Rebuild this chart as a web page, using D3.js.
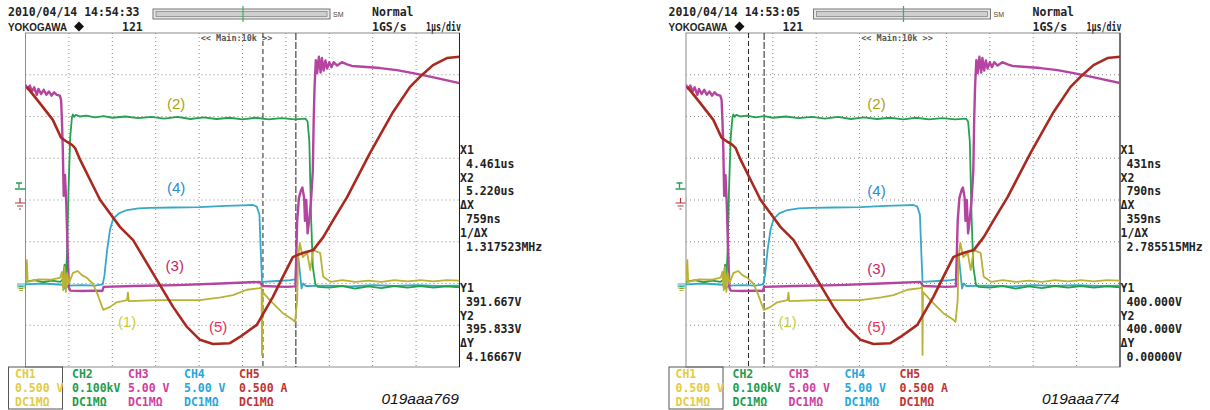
<!DOCTYPE html>
<html>
<head>
<meta charset="utf-8">
<script src="https://cdn.jsdelivr.net/npm/d3@7"></script>
<style>
body { margin: 0; background: #fff; }
svg { display: block; }
.mono { font-family: "DejaVu Sans Mono", "Liberation Mono", monospace; font-weight: bold; }
.sans { font-family: "Liberation Sans", Arial, sans-serif; }
</style>
</head>
<body>
<svg id="chart" width="1210" height="410"></svg>
<script>
// screen time in us from left edge of grid (10 div, 1us/div), value in divisions from centre
var ch1 = [[0,-1.96],[0.03,-1.44],[0.05,-1.96],[0.3,-1.9],[0.6,-1.91],[0.8,-1.86],[0.84,-1.72],[0.87,-2.16],[0.9,-1.6],
  [0.93,-2.2],[0.96,-1.75],[1.0,-2.0],[1.09,-1.75],[1.2,-1.7],[1.3,-1.8],[1.42,-1.87],[1.55,-2.0],[1.65,-2.23],
  [1.79,-2.63],[1.86,-2.6],[1.95,-2.56],[2.1,-2.45],[2.34,-2.4],[2.36,-2.22],[2.38,-2.42],[3.03,-2.4],[4.02,-2.4],
  [4.5,-2.33],[4.78,-2.28],[5.1,-2.15],[5.4,-2.11],[5.44,-2.08],[5.45,-3.71],[5.46,-2.2],[5.63,-2.4],[5.93,-2.71],
  [6.16,-2.87],[6.21,-2.92],[6.26,-2.4],[6.28,-1.37],[6.32,-1.03],[6.39,-1.37],[6.49,-1.27],[6.56,-1.68],[6.63,-1.2],
  [6.79,-1.27],[6.86,-1.84],[7.03,-1.96],[7.3,-1.92],[7.6,-1.96],[7.9,-1.93],[8.2,-1.96],[8.5,-1.92],[8.8,-1.95],
  [9.1,-1.92],[9.4,-1.95],[9.7,-1.92],[10,-1.93]];
var ch2 = [[0,-1.96],[0.2,-1.92],[0.4,-1.97],[0.6,-1.93],[0.8,-1.96],[0.86,-1.9],[0.9,-1.55],[0.92,-2.08],[0.96,-1.2],
  [0.99,0.2],[1.03,1.5],[1.07,1.98],[1.09,2.05],[1.12,1.99],[1.16,2.04],[1.25,2.0],[1.4,2.02],[1.6,1.98],[1.8,2.01],
  [2.0,1.97],[2.3,2.0],[2.6,1.96],[2.9,1.99],[3.2,1.95],[3.5,1.99],[3.8,1.94],[4.1,1.98],[4.4,1.94],[4.7,1.97],
  [5.0,1.93],[5.3,1.97],[5.6,1.93],[5.9,1.96],[6.2,1.93],[6.45,1.95],[6.5,1.88],[6.54,1.4],[6.58,-0.4],[6.62,-1.6],
  [6.68,-2.02],[6.74,-2.08],[7.0,-2.1],[7.3,-2.06],[7.6,-2.12],[7.9,-2.07],[8.2,-2.11],[8.5,-2.06],[8.8,-2.1],
  [9.1,-2.06],[9.4,-2.1],[9.7,-2.07],[10,-2.09]];
var ch3 = [[0,2.76],[0.05,2.66],[0.1,2.74],[0.15,2.6],[0.2,2.7],[0.26,2.52],[0.3,2.66],[0.36,2.54],[0.42,2.64],
  [0.48,2.52],[0.54,2.6],[0.6,2.5],[0.66,2.58],[0.72,2.52],[0.79,2.5],[0.82,2.4],[0.84,1.9],[0.86,1.2],[0.88,0.1],
  [0.91,0.6],[0.94,-0.1],[0.97,-1.2],[1.0,-2.1],[1.03,-2.17],[1.3,-2.18],[1.6,-2.17],[1.77,-2.18],[1.8,-2.08],
  [2.5,-2.06],[3.5,-2.04],[4.5,-2.0],[5.4,-1.96],[5.46,-2.06],[6.0,-2.08],[6.22,-2.07],[6.26,-0.5],[6.3,0.05],
  [6.35,0.24],[6.38,0.3],[6.42,0.05],[6.44,-0.5],[6.47,0.0],[6.5,-0.8],[6.54,-0.45],[6.58,0.0],[6.62,0.7],[6.64,1.9],
  [6.66,2.7],[6.69,3.35],[6.72,3.04],[6.76,3.43],[6.8,3.05],[6.83,3.4],[6.87,3.1],[6.91,3.34],[6.95,3.15],[7.0,3.3],
  [7.05,3.18],[7.1,3.3],[7.18,3.22],[7.29,3.3],[7.41,3.25],[7.52,3.21],[7.77,3.19],[8.17,3.16],[8.56,3.11],
  [8.93,3.04],[9.16,2.99],[9.48,2.92],[10,2.8]];
var ch4 = [[0,-2.02],[0.4,-2.0],[0.85,-2.03],[0.9,-2.12],[1.0,-2.05],[1.3,-2.04],[1.6,-2.05],[1.78,-2.02],[1.82,-1.8],
  [1.88,-1.2],[1.95,-0.7],[2.02,-0.45],[2.15,-0.32],[2.34,-0.24],[2.6,-0.2],[2.87,-0.19],[3.4,-0.18],[4.02,-0.17],
  [4.6,-0.14],[5.0,-0.13],[5.24,-0.12],[5.33,-0.16],[5.39,-0.35],[5.42,-1.2],[5.45,-1.96],[5.8,-1.94],[6.1,-1.92],
  [6.22,-1.9],[6.25,-1.35],[6.28,-1.3],[6.32,-1.7],[6.36,-2.12],[6.4,-2.0],[6.46,-2.06],[7,-2.05],[7.5,-2.07],
  [8,-2.04],[8.5,-2.06],[9,-2.04],[9.5,-2.06],[10,-2.05]];
var ch5 = [[0.03,2.71],[0.33,2.32],[0.63,1.92],[0.82,1.49],[0.96,1.39],[1.07,1.32],[1.14,1.25],[1.26,0.96],[1.49,0.48],
  [1.72,0],[2.18,-0.65],[2.48,-0.96],[3.03,-1.92],[3.4,-2.56],[3.72,-3.04],[4.02,-3.35],[4.32,-3.45],[4.71,-3.43],
  [4.94,-3.28],[5.33,-2.99],[5.7,-2.32],[5.93,-1.84],[6.16,-1.37],[6.26,-1.32],[6.39,-1.27],[6.63,-1.2],[6.86,-0.89],
  [7.09,-0.48],[7.41,0.07],[7.94,1.13],[8.47,2.11],[8.86,2.71],[9.09,2.95],[9.39,3.23],[9.71,3.4],[10,3.43]];

var channels = ["CH1", "CH2", "CH3", "CH4", "CH5"];
var vdiv = ["0.500 V", "0.100kV", "5.00 V", "5.00 V", "0.500 A"];
var coupling = ["DC1MΩ", "DC1MΩ", "DC1MΩ", "DC1MΩ", "DC1MΩ"];

var stamps = ["2010/04/14 14:54:33", "2010/04/14 14:53:05"];
var codes = ["019aaa769", "019aaa774"];
var cursorX = [[4.461, 5.220], [0.431, 0.790]];   // us after trigger
var readoutsX = [
  ["X1", "4.461us", "X2", "5.220us", "ΔX", "759ns", "1/ΔX", "1.317523MHz"],
  ["X1", "431ns", "X2", "790ns", "ΔX", "359ns", "1/ΔX", "2.785515MHz"]
];
var readoutsY = [
  ["Y1", "391.667V", "Y2", "395.833V", "ΔY", "4.16667V"],
  ["Y1", "400.000V", "Y2", "400.000V", "ΔY", "0.00000V"]
];
var labelText = ["(1)", "(2)", "(3)", "(4)", "(5)"];

var triggerPos = 1.01;   // trigger point, us from left edge of grid

var traceColor = ["#b9b233", "#22a24e", "#b4449f", "#35a9c9", "#a9291f"];
var traceWidth = [1.8, 1.8, 2.4, 1.8, 2.6];
var legendColor = ["#e2cb45", "#1f9c4c", "#cf3ea0", "#27a7dc", "#c03333"];
var labelColor = ["#c9d03d", "#aaa120", "#c51f63", "#2a8bd0", "#e8315b"];
// label anchor in (us, div) for each panel, order (1)..(5)
var labelPos = [
  [[2.34, -2.9], [3.47, 2.32], [3.44, -1.56], [3.47, 0.29], [4.44, -3.04]],
  [[2.34, -2.9], [4.39, 2.32], [4.39, -1.63], [4.39, 0.22], [4.39, -3.04]]
];

var svg = d3.select("#chart");
var data = [ch1, ch2, ch3, ch4, ch5];
var drawOrder = [3, 1, 2, 0, 4];

[0, 1].forEach(function(p) {
  var ox = p * 660.5;
  var g = svg.append("g");
  var x = d3.scaleLinear().domain([0, 10]).range([ox + 25.5, ox + 459.5]);
  var y = d3.scaleLinear().domain([-4, 4]).range([367, 33]);

  // header
  g.append("text").attr("class", "mono").attr("x", ox + 8).attr("y", 16)
    .attr("font-size", 11.5).attr("fill", "#222").text(stamps[p]);
  g.append("text").attr("class", "sans").attr("x", ox + 8).attr("y", 31)
    .attr("font-size", 11).attr("font-weight", "bold").attr("fill", "#222")
    .attr("textLength", 59).attr("lengthAdjust", "spacingAndGlyphs").text("YOKOGAWA");
  g.append("path").attr("d", "M" + (ox + 79) + ",21.5 l5,5 l-5,5 l-5,-5 z").attr("fill", "#111");
  g.append("text").attr("class", "mono").attr("x", ox + 122).attr("y", 31)
    .attr("font-size", 11.5).attr("fill", "#222").text("121");
  g.append("rect").attr("x", ox + 153).attr("y", 9).attr("width", 177).attr("height", 10)
    .attr("fill", "#e6e6e6").attr("stroke", "#777");
  g.append("rect").attr("x", ox + 156).attr("y", 11.5).attr("width", 171).attr("height", 5)
    .attr("fill", "#cfcfcf").attr("stroke", "#888").attr("stroke-width", 0.8);
  g.append("line").attr("x1", ox + 243).attr("x2", ox + 243).attr("y1", 6).attr("y2", 22)
    .attr("stroke", "#3cae5a").attr("stroke-width", 1.2);
  g.append("text").attr("class", "sans").attr("x", ox + 333).attr("y", 17)
    .attr("font-size", 7).attr("fill", "#444").text("SM");
  g.append("text").attr("class", "mono").attr("x", ox + 372).attr("y", 16)
    .attr("font-size", 11.5).attr("fill", "#222").text("Normal");
  g.append("text").attr("class", "mono").attr("x", ox + 372).attr("y", 31)
    .attr("font-size", 11.5).attr("fill", "#222").text("1GS/s");
  g.append("text").attr("class", "mono").attr("x", ox + 426).attr("y", 31)
    .attr("font-size", 11.5).attr("fill", "#222")
    .attr("textLength", 35).attr("lengthAdjust", "spacingAndGlyphs").text("1μs/div");

  // grid
  g.selectAll(".vg").data(x.ticks(10).slice(1, -1)).enter().append("line")
    .attr("x1", function(d) { return x(d); }).attr("x2", function(d) { return x(d); })
    .attr("y1", y(4)).attr("y2", y(-4))
    .attr("stroke", "#8a8a8a").attr("stroke-dasharray", "1,3");
  g.selectAll(".hg").data(y.ticks(8).slice(1, -1)).enter().append("line")
    .attr("x1", x(0)).attr("x2", x(10))
    .attr("y1", function(d) { return y(d); }).attr("y2", function(d) { return y(d); })
    .attr("stroke", "#8a8a8a").attr("stroke-dasharray", "1,3");
  g.append("rect").attr("x", x(0)).attr("y", y(4)).attr("width", x(10) - x(0)).attr("height", y(-4) - y(4))
    .attr("fill", "none").attr("stroke", "#8c8c8c");
  g.append("line").attr("x1", x(10)).attr("x2", x(10)).attr("y1", y(4)).attr("y2", y(-4))
    .attr("stroke", "#222");

  g.append("text").attr("class", "mono").attr("x", x(5) - 6).attr("y", 41)
    .attr("text-anchor", "middle").attr("font-size", 8.5).attr("font-weight", "normal")
    .attr("fill", "#555").text("<< Main:10k >>");

  // ground / trigger markers
  g.append("path").attr("d", "M" + (ox + 16) + ",183 h6 M" + (ox + 19) + ",183 v5 M" + (ox + 15) + ",189 h10")
    .attr("stroke", "#2a9d50").attr("fill", "none").attr("stroke-width", 1.3);
  g.append("path").attr("d", "M" + (ox + 20) + ",198 v5 M" + (ox + 15) + ",203 h10 M" + (ox + 17) + ",206 h6 M" + (ox + 19) + ",209 h2")
    .attr("stroke", "#b03434").attr("fill", "none").attr("stroke-width", 1.2);
  [[3, 284], [1, 286], [0, 288]].forEach(function(m) {
    g.append("path").attr("d", "M" + (ox + 17) + "," + m[1] + " h8 M" + (ox + 19) + "," + (m[1] + 2.5) + " h4")
      .attr("stroke", traceColor[m[0]]).attr("fill", "none").attr("stroke-width", 1.2);
  });

  // cursors
  cursorX[p].forEach(function(c, i) {
    g.append("line").attr("x1", x(triggerPos + c)).attr("x2", x(triggerPos + c))
      .attr("y1", y(4)).attr("y2", y(-4))
      .attr("stroke", "#222").attr("stroke-width", 1)
      .attr("stroke-dasharray", i === 0 ? "5,3" : "7,2");
  });

  // traces
  var clipId = "clip" + p;
  g.append("clipPath").attr("id", clipId).append("rect")
    .attr("x", x(0)).attr("y", y(4)).attr("width", x(10) - x(0)).attr("height", y(-4) - y(4));
  var line = d3.line().x(function(d) { return x(d[0]); }).y(function(d) { return y(d[1]); });
  drawOrder.forEach(function(k) {
    g.append("path").datum(data[k]).attr("d", line)
      .attr("clip-path", "url(#" + clipId + ")")
      .attr("fill", "none").attr("stroke", traceColor[k])
      .attr("stroke-width", traceWidth[k]).attr("stroke-linejoin", "round");
  });

  // trace labels
  labelText.forEach(function(t, k) {
    g.append("text").attr("class", "sans")
      .attr("x", x(labelPos[p][k][0])).attr("y", y(labelPos[p][k][1]))
      .attr("text-anchor", "middle").attr("dominant-baseline", "central")
      .attr("font-size", 15).attr("fill", labelColor[k]).text(t);
  });

  // cursor readouts, right of the grid
  function readout(list, row0) {
    list.forEach(function(t, i) {
      g.append("text").attr("class", "mono")
        .attr("x", ox + (i % 2 === 0 ? 460 : 466)).attr("y", 154 + (row0 + i) * 13.8)
        .attr("font-size", 11.5).attr("font-weight", "normal").attr("fill", "#222").text(t);
    });
  }
  readout(readoutsX[p], 0);
  readout(readoutsY[p], 10);

  // legend
  g.append("rect").attr("x", ox + 8.5).attr("y", 367).attr("width", 54).attr("height", 42)
    .attr("fill", "none").attr("stroke", "#555");
  var colX = [15, 72, 128, 184, 239];
  channels.forEach(function(c, k) {
    [c, vdiv[k], coupling[k]].forEach(function(t, r) {
      g.append("text").attr("class", "mono").attr("x", ox + colX[k]).attr("y", 378 + r * 14)
        .attr("font-size", 11.5).attr("fill", legendColor[k]).text(t);
    });
  });

  g.append("text").attr("class", "sans").attr("x", ox + 459).attr("y", 404)
    .attr("text-anchor", "end").attr("font-size", 15.5).attr("font-style", "italic")
    .attr("fill", "#111").text(codes[p]);
});
</script>
</body>
</html>
